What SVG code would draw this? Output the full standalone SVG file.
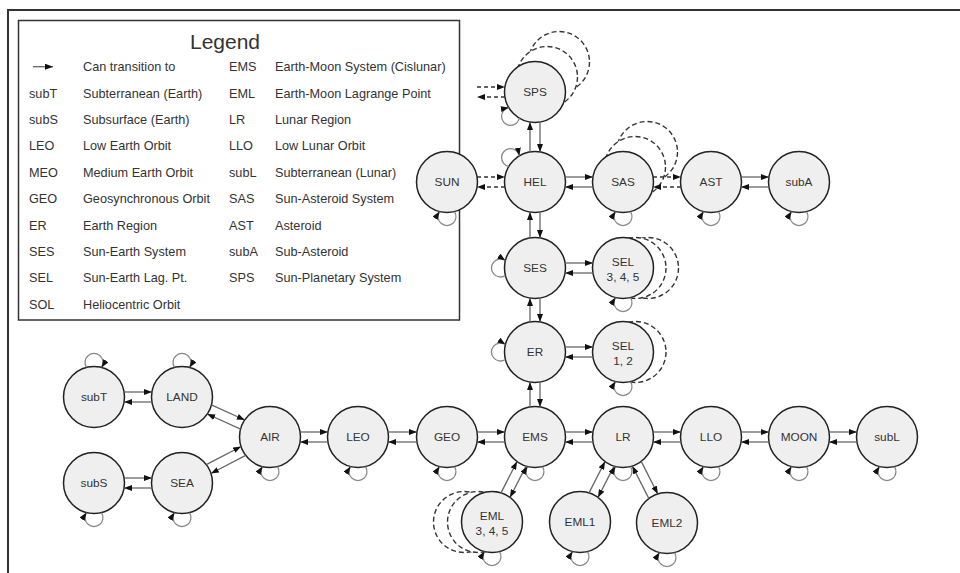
<svg xmlns="http://www.w3.org/2000/svg" width="960" height="573" viewBox="0 0 960 573">
<defs>
<style>
text{font-family:"Liberation Sans",Arial,Helvetica,sans-serif;fill:#333}
.n{fill:#efefef;stroke:#222;stroke-width:1.5}
.g{fill:#fff;stroke:#333;stroke-width:1.4;stroke-dasharray:5 3}
.lbl{font-size:11.8px;text-anchor:middle}
.c{fill:none;stroke:#666;stroke-width:1.3;marker-end:url(#arr)}
.d{fill:none;stroke:#333;stroke-width:1.3;stroke-dasharray:4 3;marker-end:url(#arr)}
.lp{fill:none;stroke:#888;stroke-width:1.3;marker-end:url(#arr)}
.lg{font-size:12.7px}
.frame{fill:none;stroke:#333;stroke-width:2}
</style>
<marker id="arr" viewBox="0 0 8 6" refX="8" refY="3" markerWidth="8" markerHeight="6" markerUnits="userSpaceOnUse" orient="auto"><path d="M0,0 L8,3 L0,6 z" fill="#111"/></marker>
</defs>
<rect width="960" height="573" fill="#fff"/>
<path class="frame" d="M8,573 L8,10 L960,10"/>

<g id="legend">
<rect x="18.5" y="20.5" width="441" height="299.5" fill="#fff" stroke="#333" stroke-width="1.5"/>
<text x="225" y="49" font-size="21" text-anchor="middle" fill="#222">Legend</text>
<path class="c" d="M33,66.7 L53,66.7"/>
<g class="lg">
<text x="83" y="71.2">Can transition to</text>
<text x="29" y="97.6">subT</text><text x="83" y="97.6">Subterranean (Earth)</text>
<text x="29" y="124">subS</text><text x="83" y="124">Subsurface (Earth)</text>
<text x="29" y="150.4">LEO</text><text x="83" y="150.4">Low Earth Orbit</text>
<text x="29" y="176.8">MEO</text><text x="83" y="176.8">Medium Earth Orbit</text>
<text x="29" y="203.2">GEO</text><text x="83" y="203.2">Geosynchronous Orbit</text>
<text x="29" y="229.6">ER</text><text x="83" y="229.6">Earth Region</text>
<text x="29" y="256">SES</text><text x="83" y="256">Sun-Earth System</text>
<text x="29" y="282.4">SEL</text><text x="83" y="282.4">Sun-Earth Lag. Pt.</text>
<text x="29" y="308.8">SOL</text><text x="83" y="308.8">Heliocentric Orbit</text>
<text x="229" y="71.2">EMS</text><text x="275" y="71.2">Earth-Moon System (Cislunar)</text>
<text x="229" y="97.6">EML</text><text x="275" y="97.6">Earth-Moon Lagrange Point</text>
<text x="229" y="124">LR</text><text x="275" y="124">Lunar Region</text>
<text x="229" y="150.4">LLO</text><text x="275" y="150.4">Low Lunar Orbit</text>
<text x="229" y="176.8">subL</text><text x="275" y="176.8">Subterranean (Lunar)</text>
<text x="229" y="203.2">SAS</text><text x="275" y="203.2">Sun-Asteroid System</text>
<text x="229" y="229.6">AST</text><text x="275" y="229.6">Asteroid</text>
<text x="229" y="256">subA</text><text x="275" y="256">Sub-Asteroid</text>
<text x="229" y="282.4">SPS</text><text x="275" y="282.4">Sun-Planetary System</text>
</g>
</g>

<g id="node-SPS"><circle class="g" cx="559" cy="62" r="30.5"/><circle class="g" cx="547" cy="77" r="30.5"/><circle class="n" cx="535" cy="92" r="30.5"/><text class="lbl" x="535" y="96">SPS</text></g>
<g id="node-SUN"><circle class="n" cx="447" cy="182" r="30.5"/><text class="lbl" x="447" y="186">SUN</text></g>
<g id="node-HEL"><circle class="n" cx="535" cy="182" r="30.5"/><text class="lbl" x="535" y="186">HEL</text></g>
<g id="node-SAS"><circle class="g" cx="647" cy="152" r="30.5"/><circle class="g" cx="635" cy="167" r="30.5"/><circle class="n" cx="623" cy="182" r="30.5"/><text class="lbl" x="623" y="186">SAS</text></g>
<g id="node-AST"><circle class="n" cx="711" cy="182" r="30.5"/><text class="lbl" x="711" y="186">AST</text></g>
<g id="node-subA"><circle class="n" cx="799" cy="182" r="30.5"/><text class="lbl" x="799" y="186">subA</text></g>
<g id="node-SES"><circle class="n" cx="535" cy="268" r="30.5"/><text class="lbl" x="535" y="272">SES</text></g>
<g id="node-SEL345"><circle class="g" cx="648" cy="268" r="30.5"/><circle class="g" cx="635.5" cy="268" r="30.5"/><circle class="n" cx="623" cy="268" r="30.5"/><text class="lbl" x="623" y="266">SEL</text><text class="lbl" x="623" y="281">3, 4, 5</text></g>
<g id="node-ER"><circle class="n" cx="535" cy="352" r="30.5"/><text class="lbl" x="535" y="356">ER</text></g>
<g id="node-SEL12"><circle class="g" cx="635.5" cy="352" r="30.5"/><circle class="n" cx="623" cy="352" r="30.5"/><text class="lbl" x="623" y="350">SEL</text><text class="lbl" x="623" y="365">1, 2</text></g>
<g id="node-subT"><circle class="n" cx="94" cy="397" r="30.5"/><text class="lbl" x="94" y="401">subT</text></g>
<g id="node-LAND"><circle class="n" cx="182" cy="397" r="30.5"/><text class="lbl" x="182" y="401">LAND</text></g>
<g id="node-subS"><circle class="n" cx="94" cy="483" r="30.5"/><text class="lbl" x="94" y="487">subS</text></g>
<g id="node-SEA"><circle class="n" cx="182" cy="483" r="30.5"/><text class="lbl" x="182" y="487">SEA</text></g>
<g id="node-AIR"><circle class="n" cx="270" cy="437" r="30.5"/><text class="lbl" x="270" y="441">AIR</text></g>
<g id="node-LEO"><circle class="n" cx="358" cy="437" r="30.5"/><text class="lbl" x="358" y="441">LEO</text></g>
<g id="node-GEO"><circle class="n" cx="447" cy="437" r="30.5"/><text class="lbl" x="447" y="441">GEO</text></g>
<g id="node-EMS"><circle class="n" cx="535" cy="437" r="30.5"/><text class="lbl" x="535" y="441">EMS</text></g>
<g id="node-LR"><circle class="n" cx="623" cy="437" r="30.5"/><text class="lbl" x="623" y="441">LR</text></g>
<g id="node-LLO"><circle class="n" cx="711" cy="437" r="30.5"/><text class="lbl" x="711" y="441">LLO</text></g>
<g id="node-MOON"><circle class="n" cx="799" cy="437" r="30.5"/><text class="lbl" x="799" y="441">MOON</text></g>
<g id="node-subL"><circle class="n" cx="887" cy="437" r="30.5"/><text class="lbl" x="887" y="441">subL</text></g>
<g id="node-EML345"><circle class="g" cx="464" cy="522" r="30.5"/><circle class="g" cx="478" cy="522" r="30.5"/><circle class="n" cx="492" cy="522" r="30.5"/><text class="lbl" x="492" y="520">EML</text><text class="lbl" x="492" y="535">3, 4, 5</text></g>
<g id="node-EML1"><circle class="n" cx="580" cy="522" r="30.5"/><text class="lbl" x="580" y="526">EML1</text></g>
<g id="node-EML2"><circle class="n" cx="667" cy="523" r="30.5"/><text class="lbl" x="667" y="527">EML2</text></g>

<g id="connectors">
<path class="d" d="M477,87 L505,87"/>
<path class="d" d="M505,97 L477,97"/>
<path class="d" d="M477,177 L505,177"/>
<path class="d" d="M505,187 L477,187"/>
<path class="d" d="M653,177 L681,177"/>
<path class="d" d="M681,187 L653,187"/>
<path class="c" d="M565,177 L593,177"/><path class="c" d="M593,187 L565,187"/>
<path class="c" d="M741,177 L769,177"/><path class="c" d="M769,187 L741,187"/>
<path class="c" d="M565,263 L593,263"/><path class="c" d="M593,273 L565,273"/>
<path class="c" d="M565,347 L593,347"/><path class="c" d="M593,357 L565,357"/>
<path class="c" d="M124,392 L152,392"/><path class="c" d="M152,402 L124,402"/>
<path class="c" d="M124,478 L152,478"/><path class="c" d="M152,488 L124,488"/>
<path class="c" d="M300,432 L328,432"/><path class="c" d="M328,442 L300,442"/>
<path class="c" d="M388,432 L417,432"/><path class="c" d="M417,442 L388,442"/>
<path class="c" d="M477,432 L505,432"/><path class="c" d="M505,442 L477,442"/>
<path class="c" d="M565,432 L593,432"/><path class="c" d="M593,442 L565,442"/>
<path class="c" d="M653,432 L681,432"/><path class="c" d="M681,442 L653,442"/>
<path class="c" d="M741,432 L769,432"/><path class="c" d="M769,442 L741,442"/>
<path class="c" d="M829,432 L857,432"/><path class="c" d="M857,442 L829,442"/>
<path class="c" d="M530,152 L530,122"/><path class="c" d="M540,122 L540,152"/>
<path class="c" d="M530,238 L530,212"/><path class="c" d="M540,212 L540,238"/>
<path class="c" d="M530,322 L530,298"/><path class="c" d="M540,298 L540,322"/>
<path class="c" d="M530,407 L530,382"/><path class="c" d="M540,382 L540,407"/>
<path class="c" d="M211.4,404.9 L244.8,420"/><path class="c" d="M240.6,429.1 L207.2,414"/>
<path class="c" d="M206.3,464.7 L241.1,446.5"/><path class="c" d="M245.7,455.3 L210.9,473.5"/>
<path class="c" d="M501,492.9 L517,461.5"/><path class="c" d="M526,466.1 L510,497.5"/>
<path class="c" d="M589,492.9 L605,461.5"/><path class="c" d="M614,466.1 L598,497.5"/>
<path class="c" d="M648.9,498.6 L632.3,466"/><path class="c" d="M641.2,461.4 L657.8,494"/>
<path class="lp" d="M519.4,118.2 A9,9 0 1 1 508.8,107.6"/>
<path class="lp" d="M508.8,166.4 A9,9 0 1 1 519.4,155.8"/>
<path class="lp" d="M454.5,211.6 A9,9 0 1 1 439.5,211.6"/>
<path class="lp" d="M630.5,211.6 A9,9 0 1 1 615.5,211.6"/>
<path class="lp" d="M718.5,211.6 A9,9 0 1 1 703.5,211.6"/>
<path class="lp" d="M806.5,211.6 A9,9 0 1 1 791.5,211.6"/>
<path class="lp" d="M505.4,275.5 A9,9 0 1 1 505.4,260.5"/>
<path class="lp" d="M505.4,359.5 A9,9 0 1 1 505.4,344.5"/>
<path class="lp" d="M630.5,297.6 A9,9 0 1 1 615.5,297.6"/>
<path class="lp" d="M630.5,381.6 A9,9 0 1 1 615.5,381.6"/>
<path class="lp" d="M86.5,367.4 A9,9 0 1 1 101.5,367.4"/>
<path class="lp" d="M174.5,367.4 A9,9 0 1 1 189.5,367.4"/>
<path class="lp" d="M101.5,512.6 A9,9 0 1 1 86.5,512.6"/>
<path class="lp" d="M189.5,512.6 A9,9 0 1 1 174.5,512.6"/>
<path class="lp" d="M277.5,466.6 A9,9 0 1 1 262.5,466.6"/>
<path class="lp" d="M365.5,466.6 A9,9 0 1 1 350.5,466.6"/>
<path class="lp" d="M454.5,466.6 A9,9 0 1 1 439.5,466.6"/>
<path class="lp" d="M542.5,466.6 A9,9 0 1 1 527.5,466.6"/>
<path class="lp" d="M630.5,466.6 A9,9 0 1 1 615.5,466.6"/>
<path class="lp" d="M718.5,466.6 A9,9 0 1 1 703.5,466.6"/>
<path class="lp" d="M806.5,466.6 A9,9 0 1 1 791.5,466.6"/>
<path class="lp" d="M894.5,466.6 A9,9 0 1 1 879.5,466.6"/>
<path class="lp" d="M499.5,551.6 A9,9 0 1 1 484.5,551.6"/>
<path class="lp" d="M587.5,551.6 A9,9 0 1 1 572.5,551.6"/>
<path class="lp" d="M674.5,552.6 A9,9 0 1 1 659.5,552.6"/>
</g>
</svg>
